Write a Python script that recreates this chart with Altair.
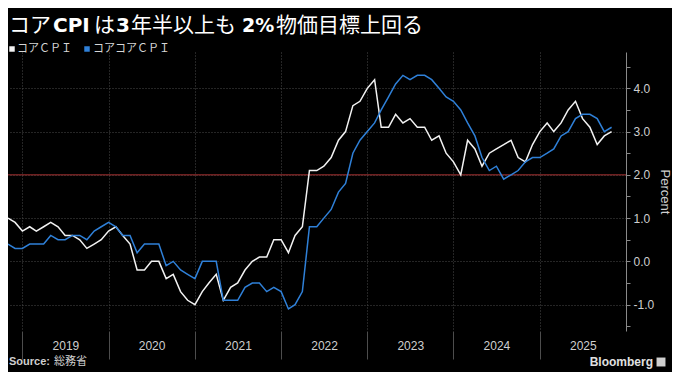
import altair as alt
import pandas as pd

# ---------------- data: year-on-year %, monthly, Oct 2018 - Oct 2025 ----------------
first_month = "2018-10-01"

core_2018 = [1.0, 0.9, 0.7]
core_2019 = [0.8, 0.7, 0.8, 0.9, 0.8, 0.6, 0.6, 0.5, 0.3, 0.4, 0.5, 0.7]
core_2020 = [0.8, 0.6, 0.4, -0.2, -0.2, 0.0, 0.0, -0.4, -0.3, -0.7, -0.9, -1.0]
core_2021 = [-0.7, -0.5, -0.3, -0.9, -0.6, -0.5, -0.2, 0.0, 0.1, 0.1, 0.5, 0.5]
core_2022 = [0.2, 0.6, 0.8, 2.1, 2.1, 2.2, 2.4, 2.8, 3.0, 3.6, 3.7, 4.0]
core_2023 = [4.2, 3.1, 3.1, 3.4, 3.2, 3.3, 3.1, 3.1, 2.8, 2.9, 2.5, 2.3]
core_2024 = [2.0, 2.8, 2.6, 2.2, 2.5, 2.6, 2.7, 2.8, 2.4, 2.3, 2.7, 3.0]
core_2025 = [3.2, 3.0, 3.2, 3.5, 3.7, 3.3, 3.1, 2.7, 2.9, 3.0]

corecore_2018 = [0.4, 0.3, 0.3]
corecore_2019 = [0.4, 0.4, 0.4, 0.6, 0.5, 0.5, 0.6, 0.6, 0.5, 0.7, 0.8, 0.9]
corecore_2020 = [0.8, 0.6, 0.6, 0.2, 0.4, 0.4, 0.4, -0.1, 0.0, -0.2, -0.3, -0.4]
corecore_2021 = [0.0, 0.0, 0.0, -0.9, -0.9, -0.9, -0.6, -0.5, -0.5, -0.7, -0.6, -0.7]
corecore_2022 = [-1.1, -1.0, -0.7, 0.8, 0.8, 1.0, 1.2, 1.6, 1.8, 2.5, 2.8, 3.0]
corecore_2023 = [3.2, 3.5, 3.8, 4.1, 4.3, 4.2, 4.3, 4.3, 4.2, 4.0, 3.8, 3.7]
corecore_2024 = [3.5, 3.2, 2.9, 2.4, 2.1, 2.2, 1.9, 2.0, 2.1, 2.3, 2.4, 2.4]
corecore_2025 = [2.5, 2.6, 2.9, 3.0, 3.3, 3.4, 3.4, 3.3, 3.0, 3.1]

series_names = ["コアＣＰＩ", "コアコアＣＰＩ"]
series_colors = ["#f2f2f2", "#2f80d8"]
year_labels = ["2019", "2020", "2021", "2022", "2023", "2024", "2025"]
y_ticks = [-1.0, 0.0, 1.0, 2.0, 3.0, 4.0]
target = [2.0]

title_parts = ["コア", "CPI", "は", "3", "年半以上も", "2%", "物価目標上回る"]
title_bold = [False, True, False, True, False, True, False]
source_label = "Source:"
source_name = "総務省"
brand = "Bloomberg"
y_title = "Percent"

# ---------------- tables ----------------
core = core_2018 + core_2019 + core_2020 + core_2021 + core_2022 + core_2023 + core_2024 + core_2025
corecore = (corecore_2018 + corecore_2019 + corecore_2020 + corecore_2021 + corecore_2022
            + corecore_2023 + corecore_2024 + corecore_2025)

months = pd.date_range(first_month, periods=len(core), freq="MS")
plot_dates = months + pd.offsets.MonthBegin(1)  # plotted at month end

df_core = pd.DataFrame({"date": plot_dates, "value": core, "series": series_names[0]})
df_cc = pd.DataFrame({"date": plot_dates, "value": corecore, "series": series_names[1]})

W, H = 618, 279
GRID = "#4a4a4a"
LABEL = "#cfcfcf"
LATIN = "Liberation Sans"
CJK = "Noto Sans CJK JP"
BOLD_LATIN = "DejaVu Sans"

minor = [y_ticks[0] - 0.5] + [v + 0.5 for v in y_ticks]
ytick_values = sorted(y_ticks + minor)

x_axis = alt.Axis(
    values=[alt.DateTime(year=int(y), month=1, date=1) for y in year_labels],
    format="%Y", labelOffset=43, labelPadding=-19, tickSize=28, tickColor="#4d4d4d",
    domain=False, grid=True, gridColor=GRID, gridDash=[1, 2], labelColor=LABEL,
    labelFontSize=12, labelFont=LATIN, labelAlign="center", labelFlush=False,
    labelOverlap=False, title=None,
)
y_axis = alt.Axis(
    orient="right", values=ytick_values,
    labelExpr="datum.value % 1 === 0 ? replace(format(datum.value, '.1f'), '\u2212', '-') : ''",
    title=y_title, titleColor=LABEL, titleFontSize=13, titleFont=LATIN, titleFontWeight="normal",
    titlePadding=4, titleAngle=90, tickSize=4, tickColor="#8a8a8a", domainColor="#8a8a8a",
    labelColor=LABEL, labelFontSize=12, labelFont=LATIN, labelPadding=3, labelOverlap=False,
    labelFlush=False, grid=True, gridColor=GRID, gridDash=[1, 2],
    gridOpacity={"condition": {"test": "datum.value % 1 !== 0", "value": 0}, "value": 1},
)

x_scale = alt.Scale(domain=[alt.DateTime(year=2018, month=11, date=1),
                            alt.DateTime(year=2026, month=1, date=1)])
y_scale = alt.Scale(domain=[-1.61, 4.84], nice=False, zero=False)

x_enc = alt.X("date:T", scale=x_scale, axis=x_axis)
y_enc = alt.Y("value:Q", scale=y_scale, axis=y_axis)

rule = alt.Chart(pd.DataFrame({"value": target})).mark_rule(
    color="#a83232", strokeWidth=1).encode(y=y_enc)

line_core = alt.Chart(df_core).mark_line(color=series_colors[0], strokeWidth=1.5).encode(
    x=x_enc, y=y_enc)
line_cc = alt.Chart(df_cc).mark_line(color=series_colors[1], strokeWidth=1.5).encode(
    x=x_enc, y=y_enc)

layers = [rule, line_core, line_cc]

# title made of segments (bold for Latin parts)
TITLE_Y = -26
title_x = [1, 45, 86, 108, 123, 234, 268]
title_size = [21, 20, 21, 20, 21, 19, 21]
for part, bold, tx, fs in zip(title_parts, title_bold, title_x, title_size):
    layers.append(
        alt.Chart(pd.DataFrame({"t": [part]})).mark_text(
            align="left", baseline="middle", font=BOLD_LATIN if bold else CJK, fontSize=fs,
            fontWeight="bold" if bold else "normal", color="#ffffff",
        ).encode(x=alt.value(tx), y=alt.value(TITLE_Y), text="t:N")
    )

# legend
LEG_Y = -3
legend_sq_x = [4, 79]
legend_tx_x = [9, 85]
for name, col, sx, tx in zip(series_names, series_colors, legend_sq_x, legend_tx_x):
    layers.append(
        alt.Chart(pd.DataFrame({"t": [name]})).mark_square(size=30, color=col, opacity=1).encode(
            x=alt.value(sx), y=alt.value(LEG_Y))
    )
    layers.append(
        alt.Chart(pd.DataFrame({"t": [name]})).mark_text(
            align="left", baseline="middle", font=CJK, fontSize=11, color="#d6d6d6"
        ).encode(x=alt.value(tx), y=alt.value(LEG_Y), text="t:N")
    )

# footer
FOOT_Y = 310
layers.append(
    alt.Chart(pd.DataFrame({"t": [source_label]})).mark_text(
        align="left", baseline="middle", font=LATIN, fontSize=11, fontWeight="bold", color=LABEL
    ).encode(x=alt.value(1), y=alt.value(FOOT_Y), text="t:N")
)
layers.append(
    alt.Chart(pd.DataFrame({"t": [source_name]})).mark_text(
        align="left", baseline="middle", font=CJK, fontSize=11, color=LABEL
    ).encode(x=alt.value(46), y=alt.value(FOOT_Y), text="t:N")
)
layers.append(
    alt.Chart(pd.DataFrame({"t": [brand]})).mark_text(
        align="right", baseline="middle", font=LATIN, fontSize=12, fontWeight="bold", color="#e0e0e0"
    ).encode(x=alt.value(645), y=alt.value(FOOT_Y), text="t:N")
)
layers.append(
    alt.Chart(pd.DataFrame({"t": [brand]})).mark_square(size=80, color="#cfcfcf", opacity=1).encode(
        x=alt.value(653), y=alt.value(FOOT_Y))
)

chart = alt.layer(*layers).properties(
    width=W, height=H,
    padding={"left": 0, "top": 44, "right": 46, "bottom": 41},
    autosize=alt.AutoSizeParams(type="none"),
).configure(background="#000000").configure_view(stroke=None)

chart.save("out.html", embed_options={"renderer": "svg", "actions": False})
